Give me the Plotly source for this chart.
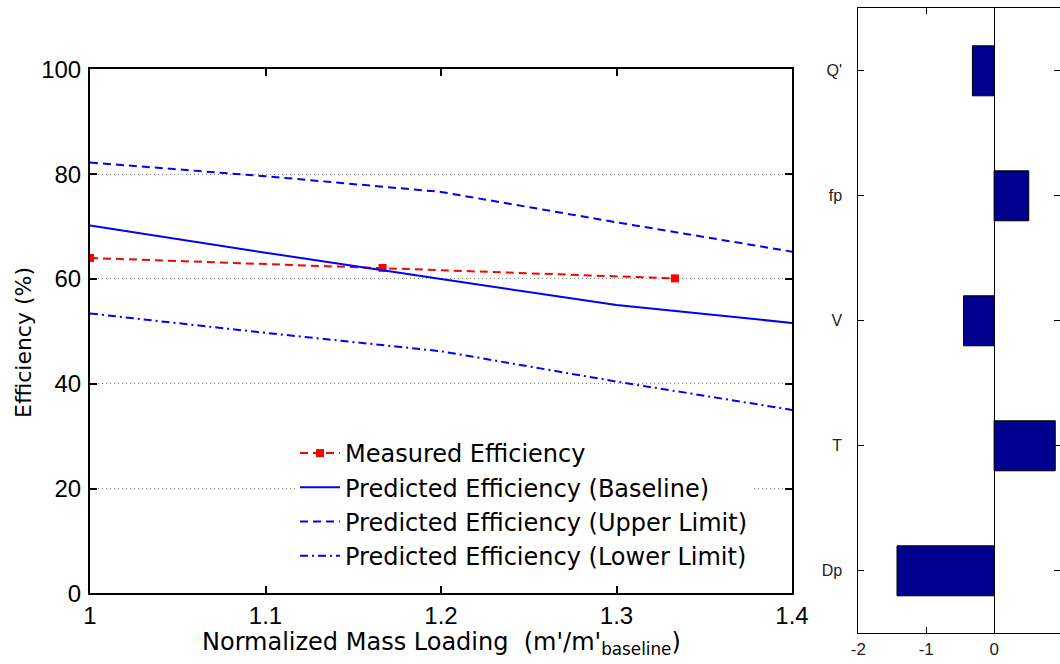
import plotly.graph_objects as go

# ---- data ----
x_pred = [1.0, 1.1, 1.2, 1.3, 1.4]
eff_baseline = [70.2, 65.0, 60.0, 55.0, 51.6]
eff_upper = [82.2, 79.6, 76.6, 70.8, 65.2]
eff_lower = [53.4, 49.7, 46.2, 40.4, 35.0]
x_meas = [1.0, 1.1667, 1.3333]
eff_meas = [64.0, 62.1, 60.1]

sens_labels = ["Dp", "T", "V", "fp", "Q'"]
sens_values = [-1.43, 0.90, -0.45, 0.51, -0.32]
sens_ticks = [-2, -1, 0, 1]
sens_ticktext = ["-2", "-1", "0", "1"]

FONT = "Liberation Sans, Arial, Helvetica, sans-serif"
WFONT = "DejaVu Sans, Verdana, sans-serif"
BLUE = "#0000ff"
RED = "#ff0000"

fig = go.Figure()

fig.add_trace(go.Scatter(x=x_meas, y=eff_meas, mode="lines+markers",
                         name="Measured Efficiency",
                         line=dict(color=RED, width=2, dash="8px,5px"),
                         marker=dict(symbol="square", size=8, color=RED),
                         xaxis="x", yaxis="y"))
fig.add_trace(go.Scatter(x=x_pred, y=eff_baseline, mode="lines",
                         name="Predicted Efficiency (Baseline)",
                         line=dict(color=BLUE, width=2),
                         xaxis="x", yaxis="y"))
fig.add_trace(go.Scatter(x=x_pred, y=eff_upper, mode="lines",
                         name="Predicted Efficiency (Upper Limit)",
                         line=dict(color=BLUE, width=2, dash="8px,5px"),
                         xaxis="x", yaxis="y"))
fig.add_trace(go.Scatter(x=x_pred, y=eff_lower, mode="lines",
                         name="Predicted Efficiency (Lower Limit)",
                         line=dict(color=BLUE, width=2, dash="8px,4px,2px,4px"),
                         xaxis="x", yaxis="y"))

fig.add_trace(go.Bar(x=sens_values, y=sens_labels, orientation="h",
                     width=0.4, showlegend=False,
                     marker=dict(color="#00008f", line=dict(color="black", width=1)),
                     xaxis="x2", yaxis="y2"))

W, H = 1060, 664
lx0, lx1 = 90 / W, 792 / W
ly0, ly1 = (H - 593.3) / H, (H - 69.3) / H
rx0, rx1 = 858.3 / W, 1.0
ry0, ry1 = (H - 633.3) / H, (H - 8.3) / H

fig.update_layout(
    width=W, height=H,
    margin=dict(l=0, r=0, t=0, b=0),
    paper_bgcolor="white", plot_bgcolor="white",
    font=dict(family=FONT, color="black"),
    xaxis=dict(domain=[lx0, lx1], range=[1.0, 1.4], tickvals=[1.0, 1.1, 1.2, 1.3, 1.4],
               ticktext=["1", "1.1", "1.2", "1.3", "1.4"],
               showline=True, linecolor="black", linewidth=2, mirror="ticks",
               ticks="inside", ticklen=7, tickwidth=1.5, tickcolor="black",
               showgrid=False, zeroline=False, automargin=False,
               tickfont=dict(size=24, family=FONT, color="black"), anchor="y"),
    yaxis=dict(domain=[ly0, ly1], range=[0, 100], tickvals=[0, 20, 40, 60, 80, 100],
               showline=True, linecolor="black", linewidth=2, mirror="ticks",
               ticks="inside", ticklen=7, tickwidth=1.5, tickcolor="black",
               showgrid=True, gridcolor="#888888", griddash="1px,3px", gridwidth=1,
               zeroline=False, automargin=False, ticklabelstandoff=2,
               tickfont=dict(size=24, family=FONT, color="black"), anchor="x"),
    xaxis2=dict(domain=[rx0, rx1], range=[-2, 0.97], tickvals=sens_ticks,
                ticktext=sens_ticktext,
                showline=True, linecolor="black", linewidth=1, mirror="ticks",
                ticks="inside", ticklen=6, tickcolor="black",
                showgrid=False, zeroline=True, zerolinecolor="black", zerolinewidth=1,
                automargin=False,
                tickfont=dict(size=17, family=FONT, color="#222222"), anchor="y2"),
    yaxis2=dict(domain=[ry0, ry1], range=[-0.5, 4.5], type="category",
                categoryorder="array", categoryarray=sens_labels,
                showline=True, linecolor="black", linewidth=1, mirror="ticks",
                ticks="inside", ticklen=6, tickcolor="black",
                showgrid=False, zeroline=False, automargin=False,
                ticklabelstandoff=12,
                tickfont=dict(size=16, family=FONT, color="#222222"), anchor="x2"),
    legend=dict(x=295 / W, y=(H - 431) / H, xanchor="left", yanchor="top",
                bgcolor="white", borderwidth=0,
                font=dict(size=24, family=WFONT, color="black"),
                itemwidth=40, tracegroupgap=0),
    showlegend=True,
    annotations=[
        dict(text="Normalized Mass Loading  (m'/m'<sub>baseline</sub>)",
             x=(200 + 682) / 2 / W, y=(H - 643) / H, xref="paper", yref="paper",
             showarrow=False, font=dict(size=24, family=WFONT, color="black"),
             xanchor="center", yanchor="middle"),
        dict(text="Efficiency (%)", x=23 / W, y=(H - 343) / H, xref="paper", yref="paper",
             showarrow=False, textangle=-90, font=dict(size=22, family=WFONT, color="black"),
             xanchor="center", yanchor="middle"),
    ],
)

fig.write_html("out.html")
